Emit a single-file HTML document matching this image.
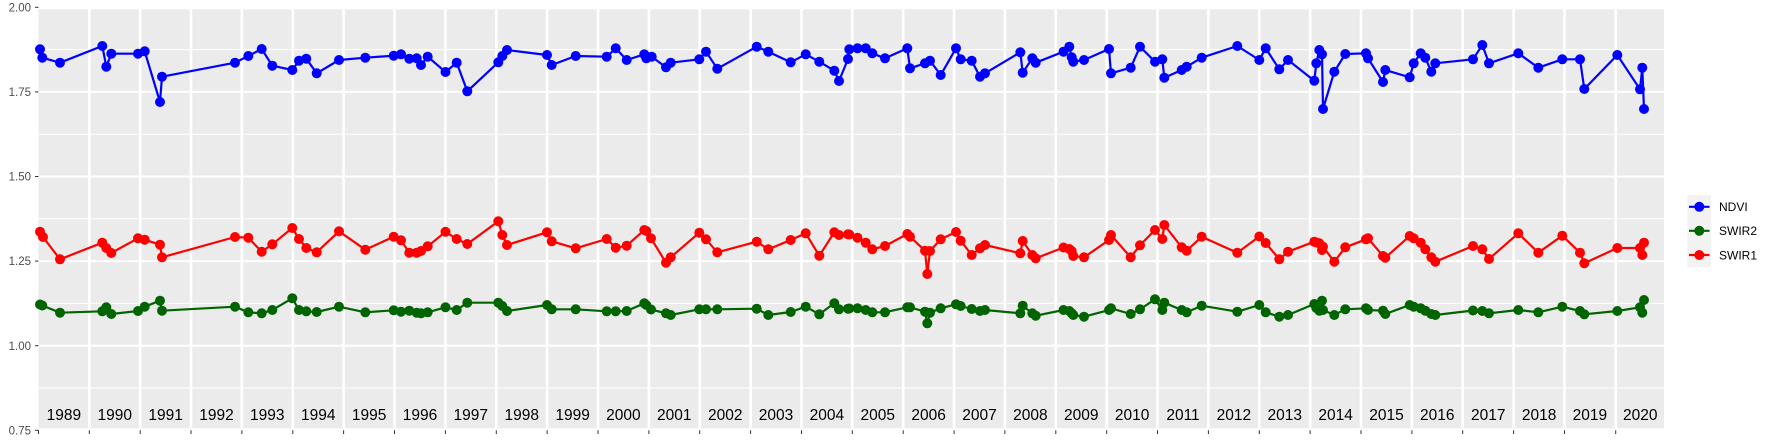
<!DOCTYPE html>
<html><head><meta charset="utf-8"><style>
html,body{margin:0;padding:0;background:#fff;}
svg{display:block;}
text{font-family:"Liberation Sans",sans-serif;}
</style></head><body>
<svg width="1773" height="442" viewBox="0 0 1773 442" xmlns="http://www.w3.org/2000/svg">
<rect x="0" y="0" width="1773" height="442" fill="#fff"/>
<rect x="38.5" y="7.3" width="1625.5" height="423" fill="#EBEBEB"/>
<g stroke="#fff" stroke-width="1">
<line x1="38.5" x2="1664" y1="49.6" y2="49.6"/>
<line x1="38.5" x2="1664" y1="134.2" y2="134.2"/>
<line x1="38.5" x2="1664" y1="218.8" y2="218.8"/>
<line x1="38.5" x2="1664" y1="303.4" y2="303.4"/>
<line x1="38.5" x2="1664" y1="388" y2="388"/>
</g>
<g stroke="#fff" stroke-width="2">
<line x1="38.5" x2="1664" y1="8.3" y2="8.3"/>
<line x1="38.5" x2="1664" y1="91.9" y2="91.9"/>
<line x1="38.5" x2="1664" y1="176.5" y2="176.5"/>
<line x1="38.5" x2="1664" y1="261.1" y2="261.1"/>
<line x1="38.5" x2="1664" y1="345.7" y2="345.7"/>
<line x1="38.5" x2="1664" y1="429.3" y2="429.3"/>
</g>
<g stroke="#fff" stroke-width="2.6">
<line x1="89.3" x2="89.3" y1="7.3" y2="430.3"/>
<line x1="140.2" x2="140.2" y1="7.3" y2="430.3"/>
<line x1="191.0" x2="191.0" y1="7.3" y2="430.3"/>
<line x1="241.9" x2="241.9" y1="7.3" y2="430.3"/>
<line x1="292.8" x2="292.8" y1="7.3" y2="430.3"/>
<line x1="343.6" x2="343.6" y1="7.3" y2="430.3"/>
<line x1="394.5" x2="394.5" y1="7.3" y2="430.3"/>
<line x1="445.4" x2="445.4" y1="7.3" y2="430.3"/>
<line x1="496.3" x2="496.3" y1="7.3" y2="430.3"/>
<line x1="547.1" x2="547.1" y1="7.3" y2="430.3"/>
<line x1="598.0" x2="598.0" y1="7.3" y2="430.3"/>
<line x1="648.9" x2="648.9" y1="7.3" y2="430.3"/>
<line x1="699.7" x2="699.7" y1="7.3" y2="430.3"/>
<line x1="750.6" x2="750.6" y1="7.3" y2="430.3"/>
<line x1="801.5" x2="801.5" y1="7.3" y2="430.3"/>
<line x1="852.3" x2="852.3" y1="7.3" y2="430.3"/>
<line x1="903.2" x2="903.2" y1="7.3" y2="430.3"/>
<line x1="954.1" x2="954.1" y1="7.3" y2="430.3"/>
<line x1="1004.9" x2="1004.9" y1="7.3" y2="430.3"/>
<line x1="1055.8" x2="1055.8" y1="7.3" y2="430.3"/>
<line x1="1106.7" x2="1106.7" y1="7.3" y2="430.3"/>
<line x1="1157.5" x2="1157.5" y1="7.3" y2="430.3"/>
<line x1="1208.4" x2="1208.4" y1="7.3" y2="430.3"/>
<line x1="1259.3" x2="1259.3" y1="7.3" y2="430.3"/>
<line x1="1310.1" x2="1310.1" y1="7.3" y2="430.3"/>
<line x1="1361.0" x2="1361.0" y1="7.3" y2="430.3"/>
<line x1="1411.9" x2="1411.9" y1="7.3" y2="430.3"/>
<line x1="1462.7" x2="1462.7" y1="7.3" y2="430.3"/>
<line x1="1513.6" x2="1513.6" y1="7.3" y2="430.3"/>
<line x1="1564.5" x2="1564.5" y1="7.3" y2="430.3"/>
<line x1="1615.7" x2="1615.7" y1="7.3" y2="430.3"/>
</g>
<!-- y axis ticks and labels -->
<g stroke="#333" stroke-width="1">
<line x1="35" x2="38.5" y1="7.3" y2="7.3"/>
<line x1="35" x2="38.5" y1="91.9" y2="91.9"/>
<line x1="35" x2="38.5" y1="176.5" y2="176.5"/>
<line x1="35" x2="38.5" y1="261.1" y2="261.1"/>
<line x1="35" x2="38.5" y1="345.7" y2="345.7"/>
<line x1="35" x2="38.5" y1="430.3" y2="430.3"/>
</g>
<g font-size="11.5" fill="#4D4D4D" text-anchor="end">
<text x="31" y="11.4">2.00</text>
<text x="31" y="96">1.75</text>
<text x="31" y="180.6">1.50</text>
<text x="31" y="265.2">1.25</text>
<text x="31" y="349.8">1.00</text>
<text x="31" y="434.4">0.75</text>
</g>
<!-- bottom ticks -->
<g stroke="#333" stroke-width="1">
<line x1="38.5" x2="38.5" y1="430.3" y2="434"/>
<line x1="89.3" x2="89.3" y1="430.3" y2="434"/>
<line x1="140.2" x2="140.2" y1="430.3" y2="434"/>
<line x1="191.0" x2="191.0" y1="430.3" y2="434"/>
<line x1="241.9" x2="241.9" y1="430.3" y2="434"/>
<line x1="292.8" x2="292.8" y1="430.3" y2="434"/>
<line x1="343.6" x2="343.6" y1="430.3" y2="434"/>
<line x1="394.5" x2="394.5" y1="430.3" y2="434"/>
<line x1="445.4" x2="445.4" y1="430.3" y2="434"/>
<line x1="496.3" x2="496.3" y1="430.3" y2="434"/>
<line x1="547.1" x2="547.1" y1="430.3" y2="434"/>
<line x1="598.0" x2="598.0" y1="430.3" y2="434"/>
<line x1="648.9" x2="648.9" y1="430.3" y2="434"/>
<line x1="699.7" x2="699.7" y1="430.3" y2="434"/>
<line x1="750.6" x2="750.6" y1="430.3" y2="434"/>
<line x1="801.5" x2="801.5" y1="430.3" y2="434"/>
<line x1="852.3" x2="852.3" y1="430.3" y2="434"/>
<line x1="903.2" x2="903.2" y1="430.3" y2="434"/>
<line x1="954.1" x2="954.1" y1="430.3" y2="434"/>
<line x1="1004.9" x2="1004.9" y1="430.3" y2="434"/>
<line x1="1055.8" x2="1055.8" y1="430.3" y2="434"/>
<line x1="1106.7" x2="1106.7" y1="430.3" y2="434"/>
<line x1="1157.5" x2="1157.5" y1="430.3" y2="434"/>
<line x1="1208.4" x2="1208.4" y1="430.3" y2="434"/>
<line x1="1259.3" x2="1259.3" y1="430.3" y2="434"/>
<line x1="1310.1" x2="1310.1" y1="430.3" y2="434"/>
<line x1="1361.0" x2="1361.0" y1="430.3" y2="434"/>
<line x1="1411.9" x2="1411.9" y1="430.3" y2="434"/>
<line x1="1462.7" x2="1462.7" y1="430.3" y2="434"/>
<line x1="1513.6" x2="1513.6" y1="430.3" y2="434"/>
<line x1="1564.5" x2="1564.5" y1="430.3" y2="434"/>
<line x1="1615.7" x2="1615.7" y1="430.3" y2="434"/>
</g>
<!-- year labels -->
<g font-size="15.5" fill="#000" text-anchor="middle">
<text x="63.9" y="420">1989</text>
<text x="114.8" y="420">1990</text>
<text x="165.6" y="420">1991</text>
<text x="216.5" y="420">1992</text>
<text x="267.3" y="420">1993</text>
<text x="318.2" y="420">1994</text>
<text x="369.1" y="420">1995</text>
<text x="420.0" y="420">1996</text>
<text x="470.8" y="420">1997</text>
<text x="521.7" y="420">1998</text>
<text x="572.6" y="420">1999</text>
<text x="623.4" y="420">2000</text>
<text x="674.3" y="420">2001</text>
<text x="725.2" y="420">2002</text>
<text x="776.0" y="420">2003</text>
<text x="826.9" y="420">2004</text>
<text x="877.8" y="420">2005</text>
<text x="928.6" y="420">2006</text>
<text x="979.5" y="420">2007</text>
<text x="1030.4" y="420">2008</text>
<text x="1081.2" y="420">2009</text>
<text x="1132.1" y="420">2010</text>
<text x="1183.0" y="420">2011</text>
<text x="1233.9" y="420">2012</text>
<text x="1284.7" y="420">2013</text>
<text x="1335.6" y="420">2014</text>
<text x="1386.5" y="420">2015</text>
<text x="1437.3" y="420">2016</text>
<text x="1488.2" y="420">2017</text>
<text x="1539.1" y="420">2018</text>
<text x="1589.9" y="420">2019</text>
<text x="1640.3" y="420">2020</text>
</g>
<defs>
<polyline id="pN" points="40,49.3 42.3,57.7 60,62.7 102.3,46 106.3,66.7 111.3,53.7 138,53.7 144.7,51.3 160,102 162,76.7 235,62.7 248.3,56 261.7,49 272.3,65.7 292.3,70 299,60.7 306.3,58.7 316.7,73.3 339,60 365.3,57.7 393.7,55.7 401,54.3 409.3,58.7 416.7,58.3 421,65 427.7,56.7 445.5,72 456.7,62.7 467.3,91.3 498.3,62.3 502.3,56 507,50 547,55 551.7,65 575.7,56 606.7,56.7 615.7,48.3 626.7,60 644.3,54.3 646.3,58.3 651.7,56.7 666,67.3 670.7,62.7 699.3,59.3 706,51.7 717.3,68.7 756.7,46.7 768.3,51.7 790.7,62.3 805.7,54.3 819.3,61.7 834.3,70.7 839,81 848,59 849.3,49.3 857.5,48.3 865.7,48.3 872.3,53.3 885,58.3 907.3,48.3 910,68.3 925,63.3 930,60.7 940.7,75 956,48.3 960.7,59.3 971.7,60.7 980,76.7 985,73.3 1020.3,52.3 1022.7,72.7 1032.3,58.3 1035.7,62.7 1063.5,51.7 1069.3,46.7 1071.7,57.3 1073.3,61.7 1084,60 1109,49 1111,73.3 1130.7,67.7 1140,46.7 1155,61.7 1162.3,59.3 1164.3,77.7 1181.7,70 1186.7,66.7 1201.7,57.7 1237.3,46 1259.3,60 1265.7,48.3 1279.3,69.3 1288,60 1314.3,80.7 1316.3,63.3 1319.3,50 1322,54.3 1323,109 1334.3,71.7 1345.3,54 1366,53.3 1368,58.3 1383,82 1385.3,70 1409.7,77.3 1413.7,63.3 1420.7,53.3 1425.3,57.7 1431.3,71.7 1435.3,63.3 1473,59.3 1482.3,45 1489,63.3 1518.3,53.3 1538.3,67.7 1562.3,59.3 1580,59.3 1584.3,89 1617.3,55 1640,89.3 1642.3,67.7 1644,109"/>
<polyline id="pG" points="40,304.5 42.3,305.5 60,312.7 102.3,311.3 106.3,307.3 111.3,314 138,311 144.7,306.7 160,300.7 162,310.7 235,306.7 248.3,312.3 261.7,313.3 272.3,310 292.3,298.3 299,310 306.3,311.3 316.7,312 339,306.7 365.3,312.3 393.7,310.3 401,311.7 409.3,310.7 416.7,312.7 421,313.3 427.7,312.3 445.5,307.3 456.7,310 467.3,302.7 498.3,302.7 502.3,306 507,311 547,305 551.7,309.3 575.7,309.3 606.7,311.3 615.7,311.3 626.7,311 644.3,303.3 646.3,305 651,309.5 666,313.3 670.7,315 699.3,309.3 706,309.3 717.3,309.3 756.7,308.7 768.3,315 790.7,312 805.7,306.7 819.3,314.3 834.3,303.3 839,309.3 848,308.7 849.3,308.5 857.5,308.3 865.7,310 872.3,312.3 885,312.3 907.3,307.3 910,307.3 925,311.7 927.3,323.3 930,312.7 940.7,308.3 956,304.3 960.7,306 971.7,309 980,311 985,310 1020.3,313.3 1022.7,305.7 1032.3,313.3 1035.7,315.7 1063.5,310 1069.3,311 1071.7,313.3 1073.3,315 1084,316.7 1109,310 1111,308.3 1130.7,314 1140,309.3 1155,299.3 1162.3,310 1164.3,302.7 1181.7,310 1186.7,312.3 1201.7,305.7 1237.3,311.7 1259.3,305 1265.7,312.3 1279.3,316.7 1288,315 1314.3,304 1316.3,308 1319.3,310.7 1322,300.7 1323,310 1334.3,315 1345.3,309.3 1366,308.3 1368,310 1383,310.7 1385.3,314 1409.7,305 1413.7,306.7 1420.7,308.3 1425.3,310.7 1431.3,314 1435.3,315 1473,310.5 1482.3,311 1489,313.3 1518.3,310 1538.3,312.3 1562.3,306.7 1580,311 1584.3,314.3 1617.3,311 1640,307.3 1642.3,312.7 1644,300"/>
<polyline id="pR" points="40,231.7 43,237 60,259.3 102.3,242.7 106.3,248 111.3,253 138,238.3 144.7,239.7 160,244.7 162,257.3 235,237 248.3,237.7 261.7,251.7 272.3,244.3 292.3,228 299,239 306.3,248 316.7,252.3 339,231.3 365.3,249.7 393.7,236.7 401,240.3 409.3,252.7 416.7,252.7 421,251 427.7,246.3 445.5,231.8 456.7,239 467.3,244 498.3,221.3 502.3,235 507,245 547,232.3 551.7,241.3 575.7,248.3 606.7,239 615.7,247.7 626.7,245.7 644.3,230 646.3,231 651,238.3 666,262.7 670.7,257.3 699.3,232.7 706,239.3 717.3,252.3 756.7,241.7 768.3,249.3 790.7,240 805.7,233.3 819.3,255.7 834.3,232.3 839,235 848,234.3 849.3,234.5 857.5,237.7 865.7,242.7 872.3,249.3 885,246 907.3,234 910,236.7 925,250.7 927.3,274 930,251 940.7,239.3 956,232 960.7,240.7 971.7,255 980,248.3 985,245 1020.3,253.3 1022.7,241 1032.3,255 1035.7,258.3 1063.5,247.5 1069.3,249 1071.7,251 1073.3,256 1084,257.3 1109,240 1111,235 1130.7,257.3 1140,245.3 1155,230 1162.3,239 1164.3,225 1181.7,247.3 1186.7,250.7 1201.7,236.7 1237.3,252.7 1259.3,236.5 1265.7,243 1279.3,259.3 1288,251.7 1314.3,241.7 1316.3,242.5 1319.3,243.3 1322,250 1323,246.7 1334.3,261.7 1345.3,247.3 1366,239.3 1368,238.3 1383,256 1385.3,257.7 1409.7,236 1413.7,238.3 1420.7,242.7 1425.3,249.3 1431.3,257.3 1435.3,261.7 1473,246 1482.3,249.3 1489,259 1518.3,233.3 1538.3,252.7 1562.3,235.7 1580,252.7 1584.3,263.3 1617.3,248 1640,248 1642.3,255 1644,242.7"/>
<marker id="mN" markerWidth="12" markerHeight="12" refX="6" refY="6" markerUnits="userSpaceOnUse"><circle cx="6" cy="6" r="5" fill="#0000FF"/></marker>
<marker id="mG" markerWidth="12" markerHeight="12" refX="6" refY="6" markerUnits="userSpaceOnUse"><circle cx="6" cy="6" r="5" fill="#006400"/></marker>
<marker id="mR" markerWidth="12" markerHeight="12" refX="6" refY="6" markerUnits="userSpaceOnUse"><circle cx="6" cy="6" r="5" fill="#FF0000"/></marker>
</defs>
<use href="#pN" fill="none" stroke="#0000FF" stroke-width="2.2" stroke-linejoin="round"/>
<use href="#pG" fill="none" stroke="#006400" stroke-width="2.2" stroke-linejoin="round"/>
<use href="#pR" fill="none" stroke="#FF0000" stroke-width="2.2" stroke-linejoin="round"/>
<use href="#pN" fill="none" stroke="none" marker-start="url(#mN)" marker-mid="url(#mN)" marker-end="url(#mN)"/>
<use href="#pG" fill="none" stroke="none" marker-start="url(#mG)" marker-mid="url(#mG)" marker-end="url(#mG)"/>
<use href="#pR" fill="none" stroke="none" marker-start="url(#mR)" marker-mid="url(#mR)" marker-end="url(#mR)"/>
<!-- legend -->
<rect x="1687.3" y="195" width="23.7" height="72" fill="#F2F2F2"/>
<line x1="1689" x2="1709.5" y1="206.8" y2="206.8" stroke="#0000FF" stroke-width="2.2"/>
<circle cx="1699.3" cy="206.8" r="5" fill="#0000FF"/>
<line x1="1689" x2="1709.5" y1="230.8" y2="230.8" stroke="#006400" stroke-width="2.2"/>
<circle cx="1699.3" cy="230.8" r="5" fill="#006400"/>
<line x1="1689" x2="1709.5" y1="255" y2="255" stroke="#FF0000" stroke-width="2.2"/>
<circle cx="1699.3" cy="255" r="5" fill="#FF0000"/>
<g font-size="12" fill="#000">
<text x="1719" y="211.2">NDVI</text>
<text x="1719" y="235.2">SWIR2</text>
<text x="1719" y="259.4">SWIR1</text>
</g>
</svg>
</body></html>
